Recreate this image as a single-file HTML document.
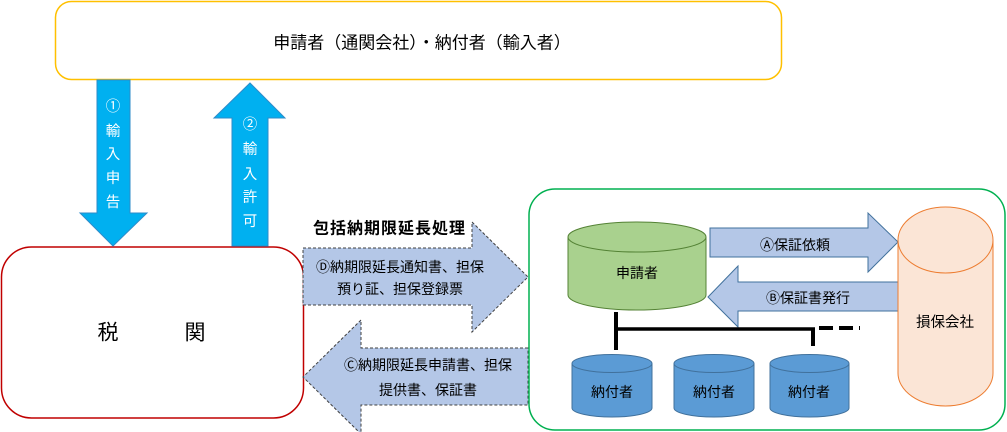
<!DOCTYPE html>
<html><head><meta charset="utf-8"><style>
html,body{margin:0;padding:0;background:#fff;}
svg{display:block;}
text{font-family:"Liberation Sans","Noto Sans CJK JP",sans-serif;}
</style></head><body>
<svg width="1007" height="432" viewBox="0 0 1007 432" xmlns="http://www.w3.org/2000/svg">
<!-- top box -->
<rect x="55.5" y="1.5" width="726" height="78" rx="16" fill="#fff" stroke="#FFC000" stroke-width="1.5"/>
<text x="422" y="43" font-size="17" text-anchor="middle" dominant-baseline="central" fill="#000">申請者（通関会社）・納付者（輸入者）</text>

<!-- zeikan box -->
<rect x="1.5" y="247" width="302" height="171" rx="30" fill="#fff" stroke="#C00000" stroke-width="1.5"/>
<text x="108" y="333" font-size="21" text-anchor="middle" dominant-baseline="central">税</text>
<text x="195" y="333" font-size="21" text-anchor="middle" dominant-baseline="central">関</text>

<!-- down arrow -->
<polygon points="97,80 130,80 130,213 147,213 113,246 80,213 97,213" fill="#00B0F0" stroke="#2E8BC9" stroke-width="1"/>
<g fill="#fff" font-size="14.5" text-anchor="middle" dominant-baseline="central">
<text x="113" y="107">①</text>
<text x="113" y="132">輸</text>
<text x="113" y="155">入</text>
<text x="113" y="179">申</text>
<text x="113" y="203">告</text>
</g>
<!-- up arrow -->
<polygon points="250,83 285,118 268,118 268,246 232,246 232,118 214,118" fill="#00B0F0" stroke="#2E8BC9" stroke-width="1"/>
<g fill="#fff" font-size="14.5" text-anchor="middle" dominant-baseline="central">
<text x="250" y="125">②</text>
<text x="250" y="150">輸</text>
<text x="250" y="175">入</text>
<text x="250" y="198">許</text>
<text x="250" y="222">可</text>
</g>

<!-- label -->
<text x="313" y="229" font-size="16" font-weight="bold" letter-spacing="1" dominant-baseline="central">包括納期限延長処理</text>

<!-- D arrow -->
<polygon points="303,248 472,248 472,222 528,277 472,332 472,305 303,305" fill="#B4C7E7" stroke="#404040" stroke-width="1" stroke-dasharray="3,2"/>
<text x="400" y="267" font-size="14" text-anchor="middle" dominant-baseline="central">Ⓓ納期限延長通知書、担保</text>
<text x="400" y="289" font-size="14" text-anchor="middle" dominant-baseline="central">預り証、担保登録票</text>

<!-- C arrow -->
<polygon points="528,348 361,348 361,320 303,377 361,434 361,405 528,405" fill="#B4C7E7" stroke="#404040" stroke-width="1" stroke-dasharray="3,2"/>
<text x="428" y="365" font-size="14" text-anchor="middle" dominant-baseline="central">Ⓒ納期限延長申請書、担保</text>
<text x="428" y="390" font-size="14" text-anchor="middle" dominant-baseline="central">提供書、保証書</text>

<!-- green box -->
<rect x="529" y="189" width="476" height="241" rx="26" fill="#fff" stroke="#00B050" stroke-width="1.5"/>

<!-- applicant cylinder -->
<path d="M568,237 L568,295 A69,15 0 0 0 706,295 L706,237" fill="#A9D18E" stroke="#548235" stroke-width="1"/>
<ellipse cx="637" cy="237" rx="69" ry="15" fill="#A9D18E" stroke="#548235" stroke-width="1"/>
<text x="637" y="273" font-size="14" text-anchor="middle" dominant-baseline="central">申請者</text>

<!-- A arrow -->
<polygon points="710,228 868,228 868,213 898,242 868,272 868,257 710,257" fill="#B4C7E7" stroke="#41719C" stroke-width="1"/>
<text x="795" y="245" font-size="14" text-anchor="middle" dominant-baseline="central">Ⓐ保証依頼</text>

<!-- B arrow -->
<polygon points="898,282 738,282 738,266 708,297 738,327 738,311 898,311" fill="#B4C7E7" stroke="#41719C" stroke-width="1"/>
<text x="808" y="298" font-size="14" text-anchor="middle" dominant-baseline="central">Ⓑ保証書発行</text>

<!-- insurer cylinder -->
<path d="M898,240 L898,373 A47.5,33 0 0 0 993,373 L993,240" fill="#FBE5D6" stroke="#ED7D31" stroke-width="1"/>
<ellipse cx="945.5" cy="240" rx="47.5" ry="33" fill="#FBE5D6" stroke="#ED7D31" stroke-width="1"/>
<text x="945" y="323" font-size="14.5" text-anchor="middle" dominant-baseline="central">損保会社</text>

<!-- connecting lines -->
<line x1="616" y1="312" x2="616" y2="350" stroke="#000" stroke-width="4"/>
<line x1="616" y1="329" x2="815" y2="329" stroke="#000" stroke-width="3.5"/>
<line x1="813" y1="328" x2="813" y2="346" stroke="#000" stroke-width="4"/>
<line x1="817" y1="328" x2="860" y2="328" stroke="#000" stroke-width="4" stroke-dasharray="14,6" stroke-dashoffset="-2"/>

<!-- payer cylinders -->
<g fill="#5B9BD5" stroke="#41719C" stroke-width="1">
<path d="M572,363.5 L572,408 A40,9 0 0 0 652,408 L652,363.5"/>
<ellipse cx="612" cy="363.5" rx="40" ry="9"/>
<path d="M674,363.5 L674,408 A40,9 0 0 0 754,408 L754,363.5"/>
<ellipse cx="714" cy="363.5" rx="40" ry="9"/>
<path d="M770,363.5 L770,408 A39.5,9 0 0 0 849,408 L849,363.5"/>
<ellipse cx="809.5" cy="363.5" rx="39.5" ry="9"/>
</g>
<g font-size="14" text-anchor="middle" dominant-baseline="central">
<text x="612" y="392">納付者</text>
<text x="714" y="392">納付者</text>
<text x="809" y="392">納付者</text>
</g>
</svg>
</body></html>
